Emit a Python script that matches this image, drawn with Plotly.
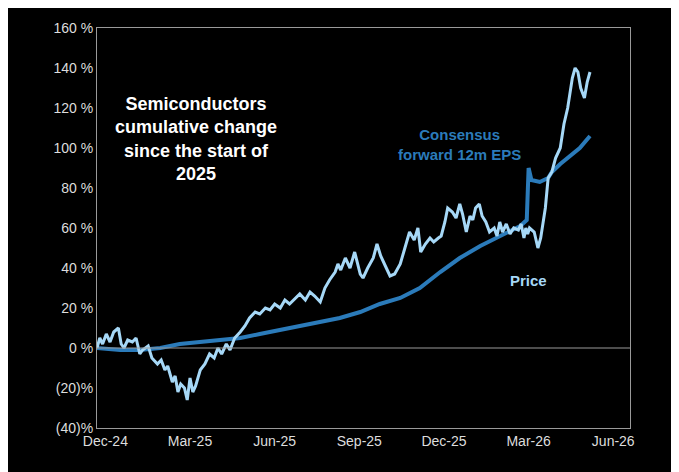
import plotly.graph_objects as go

# days since 31 Dec 2024, cumulative % change
price_days = [0, 3, 6, 10, 14, 18, 23, 26, 29, 33, 38, 42, 46, 49, 55, 59, 65, 69, 73, 76, 81, 84, 87, 90, 94,
              97, 100, 103, 106, 111, 116, 121, 126, 130, 134, 139, 143, 148, 154, 159, 164, 170, 175, 181, 186,
              191, 197, 202, 207, 213, 218, 224, 229, 234, 240, 245, 250, 256, 259, 262, 267, 272, 277, 283, 286,
              291, 297, 301, 305, 310, 315, 320, 326, 331, 336, 341, 345, 348, 353, 358, 362, 367, 370, 374, 377,
              382, 386, 390, 393, 397, 401, 404, 407, 411, 414, 418, 422, 427, 430, 433, 436, 440, 444, 448, 453,
              456, 459, 461, 463, 465, 470, 474, 477, 482, 485, 489, 493, 498, 502, 506, 511, 514, 517, 520, 524,
              527, 530]
price_pct = [0, 5, 2, 7, 3, 8, 10, 2, 0, 4, 3, 5, -3, -1, 1, -5, -8, -6, -11, -9, -17, -14, -22, -18, -20,
             -26, -15, -22, -19, -11, -8, -3, -5, 0, -3, 2, -1, 5, 8, 11, 15, 18, 17, 20, 19,
             22, 20, 24, 22, 25, 27, 24, 28, 26, 23, 30, 34, 38, 42, 39, 45, 40, 48, 37, 35,
             40, 45, 52, 46, 41, 36, 37, 42, 50, 58, 54, 60, 48, 52, 55, 53, 55, 56, 63, 70,
             68, 65, 72, 67, 58, 66, 64, 70, 72, 66, 63, 58, 60, 56, 63, 58, 62, 57, 60, 59,
             62, 55, 60, 57, 60, 58, 50, 55, 70, 85, 88, 95, 100, 112, 120, 135, 140, 138, 130, 125,
             133, 138]

eps_days = [0, 25, 46, 68, 89, 111, 132, 154, 175, 197, 218, 240, 261, 283, 304, 326, 347, 369, 390, 412,
            433, 455, 462, 464, 467, 476, 485, 489, 498, 508, 519, 530]
eps_pct = [0, -1, -1, 0, 2, 3, 4, 5, 7, 9, 11, 13, 15, 18, 22, 25, 30, 38, 45, 51,
           56, 61, 64, 90, 84, 83, 85, 88, 92, 96, 100, 106]

tick_days = [9, 100, 191, 282, 373, 464, 555]
tick_labels = ["Dec-24", "Mar-25", "Jun-25", "Sep-25", "Dec-25", "Mar-26", "Jun-26"]
y_ticks = [-40, -20, 0, 20, 40, 60, 80, 100, 120, 140, 160]
y_labels = ["(40)%", "(20)%", "0 %", "20 %", "40 %", "60 %", "80 %", "100 %", "120 %", "140 %", "160 %"]

fig = go.Figure()
fig.add_trace(go.Scatter(x=eps_days, y=eps_pct, mode="lines",
                         line=dict(color="#2B7BBA", width=4), showlegend=False))
fig.add_trace(go.Scatter(x=price_days, y=price_pct, mode="lines",
                         line=dict(color="#A6D8F7", width=3), showlegend=False))

fig.add_hline(y=0, line=dict(color="#9a9a9a", width=1))

font = "Liberation Sans, Arial, sans-serif"
fig.add_annotation(x=0.185, y=0.84, xref="paper", yref="paper", showarrow=False, xanchor="center",
                   text="<b>Semiconductors<br>cumulative change<br>since the start of<br>2025</b>",
                   font=dict(color="white", size=18, family=font))
fig.add_annotation(x=0.68, y=0.76, xref="paper", yref="paper", showarrow=False, xanchor="center",
                   text="<b>Consensus<br>forward 12m EPS</b>",
                   font=dict(color="#2B7BBA", size=15, family=font))
fig.add_annotation(x=0.81, y=0.37, xref="paper", yref="paper", showarrow=False, xanchor="center",
                   text="<b>Price</b>", font=dict(color="#A6D8F7", size=15, family=font))

fig.update_layout(
    width=679, height=472,
    paper_bgcolor="black", plot_bgcolor="black",
    margin=dict(l=89, r=57, t=16, b=52),
    font=dict(family=font, color="#dddddd", size=14),
    xaxis=dict(range=[0, 573], tickvals=tick_days, ticktext=tick_labels, showgrid=False,
               zeroline=False, showline=True, linecolor="#9a9a9a", mirror=True, ticks=""),
    yaxis=dict(range=[-40, 160], tickvals=y_ticks, ticktext=y_labels, showgrid=False,
               zeroline=False, showline=True, linecolor="#9a9a9a", mirror=True, ticks=""),
)

fig.write_html("out.html")
